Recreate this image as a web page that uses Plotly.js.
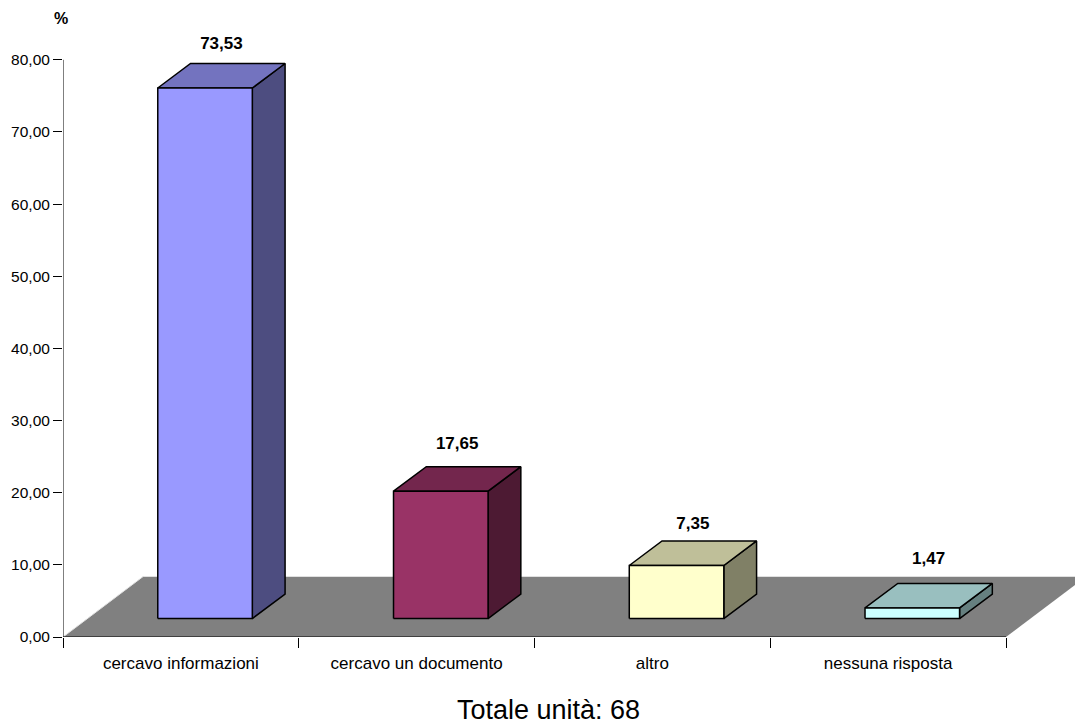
<!DOCTYPE html>
<html>
<head>
<meta charset="utf-8">
<script src="https://cdn.plot.ly/plotly-3.0.1.min.js"></script>
<style>html,body{margin:0;padding:0;background:#fff}#chart{width:1075px;height:726px}</style>
</head>
<body>
<div id="chart"></div>
<script>
var categories = ["cercavo informazioni", "cercavo un documento", "altro", "nessuna risposta"];
var values = [73.53, 17.65, 7.35, 1.47];
var frontColors = ["#9999FF", "#993366", "#FFFFCC", "#CCFFFF"];
var topColors = ["#7373BF", "#73264D", "#BFBF99", "#99BFBF"];
var sideColors = ["#4D4D80", "#4D1A33", "#808066", "#668080"];
var yTicks = [0, 10, 20, 30, 40, 50, 60, 70, 80];
var labelLift = [2.62, 3.02, 2.22, 3.22];

var barOffset = 0.402, barWidth = 0.401, depthX = 0.139, depthY = 3.4, baseY = 2.56;
var floorDepthX = 0.34, floorDepthY = 8.39;
var edge = {color: "#000000", width: 1.5};
var n = categories.length;
var plotH = 637, plotW = 1012, unitY = (636.5 - 59.3) / 80, unitX = 943 / n;

function poly(xs, ys, fill, line) {
  return {x: xs, y: ys, type: "scatter", mode: "lines", fill: "toself", fillcolor: fill,
    line: line, hoverinfo: "skip", showlegend: false};
}
function axisLine(xs, ys) {
  return {x: xs, y: ys, type: "scatter", mode: "lines", line: {color: "#000000", width: 1},
    cliponaxis: false, hoverinfo: "skip", showlegend: false};
}

var traces = [];
traces.push(poly([0, n, n + floorDepthX, floorDepthX, 0], [0, 0, floorDepthY, floorDepthY, 0], "#808080", {width: 0}));
traces.push({x: [0, floorDepthX, n + floorDepthX], y: [0, floorDepthY, floorDepthY], type: "scatter", mode: "lines",
  line: {color: "#E2E2E2", width: 1}, hoverinfo: "skip", showlegend: false});

values.forEach(function (v, i) {
  var l = i + barOffset, r = l + barWidth, t = baseY + v;
  traces.push(poly([r, r + depthX, r + depthX, r, r], [baseY, baseY + depthY, t + depthY, t, baseY], sideColors[i], edge));
  traces.push(poly([l, l + depthX, r + depthX, r, l], [t, t + depthY, t + depthY, t, t], topColors[i], edge));
  traces.push(poly([l, r, r, l, l], [baseY, baseY, t, t, baseY], frontColors[i], edge));
});

traces.push(axisLine([0, n], [0, 0]));
traces.push(axisLine([0, 0], [0, 80]));

traces.push({
  x: values.map(function (v, i) { return i + barOffset + (barWidth + depthX) / 2; }),
  y: values.map(function (v, i) { return v + baseY + depthY + labelLift[i]; }),
  text: values.map(function (v) { return v.toFixed(2).replace(".", ","); }),
  type: "scatter", mode: "text", textposition: "middle center",
  textfont: {family: "Liberation Sans, Arial, sans-serif", size: 17, color: "#000000", weight: 700},
  hoverinfo: "skip", showlegend: false
});

var layout = {
  width: 1075, height: 726,
  margin: {l: 63, r: 0, t: 0, b: 726 - plotH, pad: 0},
  paper_bgcolor: "#FFFFFF", plot_bgcolor: "#FFFFFF",
  separators: ",.",
  showlegend: false,
  font: {family: "Liberation Sans, Arial, sans-serif", color: "#000000", size: 15},
  xaxis: {
    type: "linear", range: [0, plotW / unitX], fixedrange: true, zeroline: false, showgrid: false,
    showline: false,
    tickmode: "array",
    tickvals: categories.map(function (c, i) { return i + 0.5; }),
    ticktext: categories,
    ticks: "outside", ticklen: 11, tickcolor: "rgba(0,0,0,0)",
    tickfont: {size: 17},
    minor: {tickmode: "array", tickvals: [0, 1, 2, 3, 4], ticks: "outside", ticklen: 10, tickcolor: "#000000", tickwidth: 1, showgrid: false}
  },
  yaxis: {
    type: "linear", range: [0, plotH / unitY], fixedrange: true, zeroline: false, showgrid: false,
    showline: false,
    tickmode: "array", tickvals: yTicks, tickformat: ".2f",
    ticks: "outside", ticklen: 9, tickcolor: "#000000", tickwidth: 1,
    tickfont: {size: 15.5}
  },
  annotations: [
    {text: "<b>%</b>", xref: "paper", yref: "paper", x: (60.5 - 63) / plotW, y: 1 - 19 / plotH, xanchor: "center", yanchor: "middle",
      showarrow: false, font: {size: 16}},
    {text: "Totale unità: 68", xref: "paper", yref: "paper", x: (548 - 63) / plotW, y: -(710 - plotH) / plotH, xanchor: "center", yanchor: "middle",
      showarrow: false, font: {size: 27}}
  ]
};

Plotly.newPlot("chart", traces, layout, {displayModeBar: false, staticPlot: true});
</script>
</body>
</html>
